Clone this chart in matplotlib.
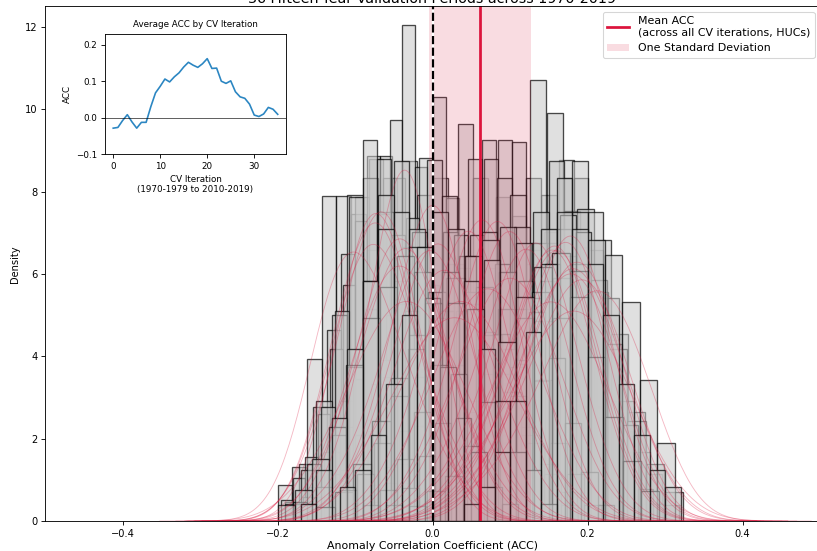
import numpy as np
import matplotlib
matplotlib.use("Agg")
import matplotlib.pyplot as plt
import seaborn as sns

# average ACC per CV iteration (inset)
cv_iter = np.arange(36)
avg_acc = [-0.029, -0.027, -0.008, 0.008, -0.012, -0.029, -0.013, -0.013,
           0.030, 0.068, 0.086, 0.106, 0.098, 0.112, 0.123, 0.139,
           0.152, 0.144, 0.138, 0.148, 0.162, 0.135, 0.136, 0.100,
           0.094, 0.101, 0.071, 0.057, 0.053, 0.037, 0.007, 0.003,
           0.010, 0.028, 0.023, 0.009]

mean_acc = 0.061
std_acc = 0.066

# per-iteration histograms: first bin edge, bin width, counts
hist_lo = [-0.200, -0.190, -0.180, -0.196, -0.167, -0.160, -0.136, -0.140, -0.190,
           -0.180, -0.170, -0.100, 0.000, -0.080, 0.030, -0.060, -0.050, -0.040,
           -0.042, -0.020, -0.010, 0.000, 0.010, 0.020, -0.013, 0.005, 0.020,
           -0.200, -0.150, -0.120, -0.090, -0.060, -0.030, -0.170, -0.120, 0.040]
hist_w = [0.019, 0.018, 0.020, 0.016, 0.016, 0.020, 0.017, 0.019, 0.020,
          0.018, 0.020, 0.019, 0.020, 0.018, 0.019, 0.018, 0.019, 0.020,
          0.021, 0.021, 0.020, 0.020, 0.022, 0.020, 0.024, 0.020, 0.0225,
          0.022, 0.024, 0.022, 0.022, 0.021, 0.023, 0.020, 0.020, 0.020]
hist_counts = [
    [2, 3, 9, 18, 18, 17, 15, 12, 9, 7, 5, 3, 1, 1],
    [1, 3, 6, 10, 14, 17, 19, 18, 13, 9, 5, 3, 2],
    [1, 2, 4, 7, 10, 14, 18, 21, 17, 12, 7, 4, 2, 1],
    [1, 2, 3, 5, 8, 11, 14, 17, 17, 16, 12, 7, 4, 3],
    [1, 1, 2, 4, 6, 9, 13, 17, 21, 15, 10, 6, 3, 1],
    [1, 2, 3, 5, 8, 12, 16, 19, 20, 15, 10, 5, 3, 1],
    [1, 2, 3, 5, 8, 11, 15, 18, 21, 16, 10, 6, 3, 1],
    [1, 2, 3, 5, 8, 12, 16, 20, 18, 14, 10, 6, 3, 2],
    [1, 3, 7, 12, 19, 20, 18, 14, 10, 7, 5, 3, 1],
    [1, 3, 6, 11, 17, 20, 19, 15, 11, 8, 5, 3, 1],
    [1, 2, 5, 9, 14, 19, 21, 17, 13, 9, 6, 3, 1],
    [1, 2, 3, 5, 8, 12, 16, 22, 19, 14, 9, 5, 3, 1],
    [1, 2, 3, 5, 8, 11, 15, 19, 20, 16, 11, 6, 2, 1],
    [1, 2, 3, 5, 8, 11, 15, 19, 20, 17, 10, 5, 3, 1],
    [1, 2, 3, 5, 8, 12, 16, 20, 19, 15, 10, 5, 3, 1],
    [1, 2, 3, 5, 8, 11, 15, 19, 20, 16, 11, 5, 3, 1],
    [1, 2, 3, 5, 8, 12, 16, 19, 21, 15, 10, 5, 2, 1],
    [1, 2, 3, 5, 7, 11, 15, 19, 20, 17, 11, 5, 3, 1],
    [1, 1, 2, 4, 6, 9, 13, 18, 27, 17, 11, 7, 3, 1],
    [1, 1, 2, 4, 6, 9, 13, 17, 25, 19, 12, 7, 3, 1],
    [1, 2, 3, 5, 7, 10, 14, 18, 21, 18, 11, 6, 3, 1],
    [1, 1, 2, 4, 6, 9, 13, 17, 20, 21, 14, 7, 4, 1],
    [1, 2, 3, 5, 7, 10, 14, 17, 20, 18, 12, 7, 3, 1],
    [1, 2, 3, 5, 7, 10, 14, 17, 18, 18, 13, 7, 4, 1],
    [1, 2, 3, 5, 8, 11, 14, 17, 18, 16, 12, 7, 4, 2],
    [1, 2, 3, 5, 7, 10, 13, 16, 19, 18, 15, 11, 6, 2],
    [1, 2, 3, 4, 6, 9, 13, 16, 18, 17, 14, 9, 5],
    [1, 2, 4, 6, 10, 13, 15, 17, 16, 13, 10, 7, 4, 2],
    [1, 2, 4, 7, 10, 13, 16, 17, 16, 13, 9, 6, 4, 2],
    [2, 3, 5, 8, 11, 14, 16, 17, 15, 12, 8, 5, 3, 1],
    [1, 2, 4, 7, 10, 14, 17, 18, 16, 13, 9, 5, 3, 1],
    [1, 2, 4, 6, 9, 13, 16, 18, 17, 14, 10, 6, 3, 1],
    [1, 2, 3, 5, 8, 12, 15, 17, 18, 15, 11, 7, 4, 2],
    [1, 3, 6, 10, 14, 17, 18, 16, 13, 9, 6, 4, 2, 1],
    [2, 3, 5, 8, 12, 16, 18, 17, 14, 10, 7, 4, 3, 1],
    [1, 2, 4, 7, 11, 15, 18, 17, 15, 12, 8, 5, 3, 2],
]

fig = plt.figure(figsize=(817 / 79, 551 / 79), dpi=79)
ax = fig.add_axes([0.0551, 0.0544, 0.9486, 0.934])

for lo, w, counts in zip(hist_lo, hist_w, hist_counts):
    n = len(counts)
    edges = lo + w * np.arange(n + 1)
    centers = lo + w * (np.arange(n) + 0.5)
    ax.hist(centers, bins=edges, weights=counts, density=True,
            facecolor=(0.78, 0.78, 0.78, 0.55), edgecolor=(0, 0, 0, 0.7), linewidth=1.2)
    sns.kdeplot(x=centers, weights=counts, ax=ax, color="crimson", alpha=0.3, linewidth=0.8)

ax.axvspan(mean_acc - std_acc, mean_acc + std_acc, color="crimson", alpha=0.15,
           linewidth=0, label="One Standard Deviation")
ax.axvline(mean_acc, color="crimson", linewidth=2.5,
           label="Mean ACC\n(across all CV iterations, HUCs)")
ax.axvline(0, color="black", linestyle="--", linewidth=2, gapcolor="white")

ax.set_xlim(-0.5, 0.5)
ax.set_ylim(0, 12.5)
ax.set_xticks([-0.4, -0.2, 0.0, 0.2, 0.4])
ax.set_yticks([0, 2, 4, 6, 8, 10, 12])
ax.tick_params(labelsize=9)
ax.set_xlabel("Anomaly Correlation Coefficient (ACC)", fontsize=10, labelpad=2)
ax.set_ylabel("Density", fontsize=9)

h, l = ax.get_legend_handles_labels()
ax.legend([h[1], h[0]], [l[1], l[0]], loc="upper right", fontsize=10)

fig.text(0.529, 0.994, "36 Fifteen-Year Validation Periods across 1970-2019",
         ha="center", va="baseline", fontsize=13)

# inset
ins = fig.add_axes([0.1285, 0.7205, 0.2215, 0.218])
ins.plot(cv_iter, avg_acc, color="#2b86c2", linewidth=1.5)
ins.axhline(0, color="black", linewidth=0.8, alpha=0.7)
ins.set_ylim(-0.1, 0.23)
ins.set_yticks([-0.1, 0.0, 0.1, 0.2])
ins.set_xticks([0, 10, 20, 30])
ins.tick_params(labelsize=8)
ins.set_title("Average ACC by CV Iteration", fontsize=8)
ins.set_xlabel("CV Iteration\n(1970-1979 to 2010-2019)", fontsize=8)
ins.set_ylabel("ACC", fontsize=8)

fig.savefig("out.png", dpi=79)
